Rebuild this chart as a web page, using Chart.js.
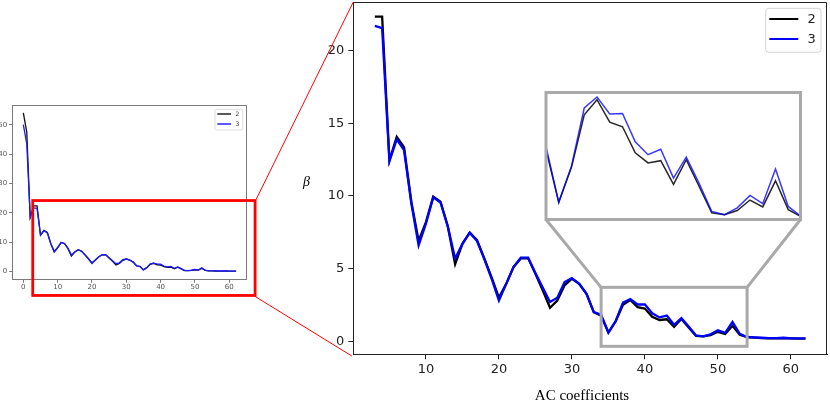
<!DOCTYPE html>
<html>
<head>
<meta charset="utf-8">
<script src="https://cdn.jsdelivr.net/npm/chart.js@4.4.0/dist/chart.umd.min.js"></script>
<style>
html,body{margin:0;padding:0;background:#fff;}
#wrap{position:relative;width:830px;height:400px;overflow:hidden;background:#fff;}
canvas{position:absolute;display:block;}
</style>
</head>
<body>
<div id="wrap">
  <canvas id="mainCv" width="830" height="400" style="left:0;top:0;width:830px;height:400px;"></canvas>
  <canvas id="smallCv" width="252" height="200" style="left:0;top:95px;width:252px;height:200px;"></canvas>
  <canvas id="insetCv" width="255" height="128" style="left:546px;top:92px;width:255px;height:128px;background:#fff;"></canvas>
  <canvas id="overCv" width="830" height="400" style="left:0;top:0;width:830px;height:400px;pointer-events:none;"></canvas>
</div>
<script>
// ---------------- data ----------------
const acIndex = [0,1,2,3,4,5,6,7,8,9,10,11,12,13,14,15,16,17,18,19,20,21,22,23,24,25,26,27,28,29,30,
  31,32,33,34,35,36,37,38,39,40,41,42,43,44,45,46,47,48,49,50,51,52,53,54,55,56,57,58,59,60,61,62];
// series "2" (black)
const seriesTwo = [54.0,47.5,18.5,22.35,22.35,12.45,14.07,13.35,9.6,6.9,8.2,9.95,9.6,7.9,5.3,6.7,7.47,6.95,5.7,4.4,
  3.0,3.95,5.1,5.7,5.72,4.64,3.5,2.3,2.8,3.85,4.3,3.95,3.26,2.0,1.75,0.6,1.37,2.51,2.84,2.35,
  2.25,1.68,1.46,1.51,0.99,1.53,0.95,0.37,0.33,0.42,0.65,0.5,1.07,0.44,0.29,0.25,0.22,0.2,0.2,0.22,
  0.2,0.18,0.18];
// series "3" (blue)
const seriesThree = [50.0,43.5,18.5,21.7,21.55,12.4,13.9,13.15,9.5,6.6,8.1,9.9,9.55,7.9,5.7,6.7,7.47,6.9,5.65,4.3,
  2.8,3.95,5.1,5.75,5.75,4.7,3.7,2.7,3.0,4.07,4.35,3.95,3.26,2.0,1.82,0.6,1.39,2.66,2.9,2.53,
  2.54,1.92,1.64,1.76,1.13,1.59,1.02,0.4,0.33,0.48,0.75,0.57,1.33,0.51,0.29,0.27,0.24,0.22,0.22,0.24,
  0.2,0.2,0.2];
const seriesLabels = ['2','3'];
const seriesColors = ['#000000','#0000ff'];
const mainFirstIndex = 3;            // large panel starts at AC coefficient 3
const mainXTicks = [10,20,30,40,50,60];
const mainYTicks = [0,5,10,15,20];
const smallXTicks = [0,10,20,30,40,50,60];
const smallYTicks = [0,10,20,30,40,50];
const mainXRange = [0.05,64.95];
const mainYRange = [-0.9,23.35];
const smallXRange = [-3.1,65.1];
const smallYRange = [-2.6,56.6];
const zoomXRange = [34,54];          // region shown magnified in the inset
const zoomYRange = [-0.35,3.71];
const insetYRange = [0.214,3.009];
const highlightX = [2.74,67.55];     // red box on the small panel
const highlightY = [-8.1,24.2];
const xAxisTitle = 'AC coefficients';
const yAxisTitle = 'β';

// ---------------- helpers ----------------
function pointsFrom(values, from, to) {
  const out = [];
  for (let i = from; i <= to; i++) out.push({x: acIndex[i], y: values[i]});
  return out;
}
function fixedTicks(list) {
  return function(scale) { scale.ticks = list.map(v => ({value: v})); };
}
function noPad(scale) {
  scale.paddingTop = 0; scale.paddingBottom = 0; scale.paddingLeft = 0; scale.paddingRight = 0;
}
function drawLegend(ctx, o) {
  ctx.save();
  const {x, y, w, h, r} = o.box;
  ctx.beginPath();
  ctx.moveTo(x + r, y); ctx.lineTo(x + w - r, y); ctx.arcTo(x + w, y, x + w, y + r, r);
  ctx.lineTo(x + w, y + h - r); ctx.arcTo(x + w, y + h, x + w - r, y + h, r);
  ctx.lineTo(x + r, y + h); ctx.arcTo(x, y + h, x, y + h - r, r);
  ctx.lineTo(x, y + r); ctx.arcTo(x, y, x + r, y, r);
  ctx.closePath();
  ctx.fillStyle = 'rgba(255,255,255,0.85)';
  ctx.fill();
  ctx.strokeStyle = o.border; ctx.lineWidth = 1;
  ctx.stroke();
  seriesLabels.forEach((lab, i) => {
    const yy = o.rows[i];
    ctx.strokeStyle = seriesColors[i]; ctx.lineWidth = o.lw;
    ctx.beginPath(); ctx.moveTo(o.x0, yy); ctx.lineTo(o.x1, yy); ctx.stroke();
    ctx.fillStyle = o.textColor; ctx.font = o.font;
    ctx.textAlign = 'left'; ctx.textBaseline = 'middle';
    ctx.fillText(lab, o.tx, yy + 0.5);
  });
  ctx.restore();
}
function frameTopRight(ctx, a, color, lw) {
  ctx.save();
  ctx.strokeStyle = color; ctx.lineWidth = lw;
  const t = Math.round(a.top) + 0.5, rr = Math.round(a.right) - 0.5;
  ctx.beginPath();
  ctx.moveTo(a.left, t); ctx.lineTo(rr, t); ctx.lineTo(rr, a.bottom);
  ctx.stroke();
  ctx.restore();
}

// ---------------- main panel ----------------
const mainDecor = {
  id: 'mainDecor',
  afterDraw(chart) {
    const ctx = chart.ctx;
    frameTopRight(ctx, chart.chartArea, '#222', 1);
    drawLegend(ctx, {
      box: {x: 765.7, y: 8.3, w: 55.3, h: 44, r: 3}, border: '#d4d4d4',
      rows: [19, 39], x0: 769.3, x1: 798.3, lw: 2, tx: 807.5,
      font: '13px "DejaVu Sans"', textColor: '#222'
    });
    ctx.save();
    ctx.fillStyle = '#000';
    ctx.textAlign = 'center'; ctx.textBaseline = 'alphabetic';
    ctx.font = 'italic 14px "Liberation Serif"';
    ctx.fillText(yAxisTitle, 306.5, 185.5);
    ctx.font = '15px "Liberation Serif"';
    ctx.fillText(xAxisTitle, 582, 399.5);
    ctx.restore();
  }
};

const mainChart = new Chart(document.getElementById('mainCv'), {
  type: 'line',
  data: {
    datasets: [
      {label: seriesLabels[1], data: pointsFrom(seriesThree, mainFirstIndex, acIndex.length - 1),
       borderColor: seriesColors[1], borderWidth: 2.3, pointRadius: 0, tension: 0, fill: false},
      {label: seriesLabels[0], data: pointsFrom(seriesTwo, mainFirstIndex, acIndex.length - 1),
       borderColor: seriesColors[0], borderWidth: 2.3, pointRadius: 0, tension: 0, fill: false}
    ]
  },
  options: {
    responsive: false, animation: false, events: [],
    layout: {autoPadding: false, padding: {left: 300, right: 3, top: 2, bottom: 0}},
    plugins: {legend: {display: false}, tooltip: {enabled: false}},
    scales: {
      x: {
        type: 'linear', min: mainXRange[0], max: mainXRange[1],
        afterBuildTicks: fixedTicks(mainXTicks),
        afterFit: s => { s.height = 45.7; noPad(s); },
        grid: {drawOnChartArea: false, drawTicks: true, tickLength: 5, color: '#222', lineWidth: 1},
        border: {display: true, color: '#222', width: 1},
        ticks: {font: {family: 'DejaVu Sans', size: 13}, color: '#222', padding: 3, maxRotation: 0, autoSkip: false}
      },
      y: {
        type: 'linear', min: mainYRange[0], max: mainYRange[1],
        afterBuildTicks: fixedTicks(mainYTicks),
        afterFit: s => { s.width = 53.3; noPad(s); },
        grid: {drawOnChartArea: false, drawTicks: true, tickLength: 5, color: '#222', lineWidth: 1},
        border: {display: true, color: '#222', width: 1},
        ticks: {font: {family: 'DejaVu Sans', size: 13}, color: '#222', padding: 4, autoSkip: false}
      }
    }
  },
  plugins: [mainDecor]
});

// ---------------- small overview panel ----------------
const smallDecor = {
  id: 'smallDecor',
  afterDraw(chart) {
    const ctx = chart.ctx;
    frameTopRight(ctx, chart.chartArea, '#7a7a7a', 1);
    drawLegend(ctx, {
      box: {x: 215, y: 14.3, w: 27.7, h: 20.7, r: 1.5}, border: '#dddddd',
      rows: [19, 29], x0: 217.3, x1: 231, lw: 1.3, tx: 235.5,
      font: '6px "DejaVu Sans"', textColor: '#333'
    });
  }
};
const smallChart = new Chart(document.getElementById('smallCv'), {
  type: 'line',
  data: {
    datasets: [
      {label: seriesLabels[1], data: pointsFrom(seriesThree, 0, acIndex.length - 1),
       borderColor: '#1a1aff', borderWidth: 1.3, pointRadius: 0, tension: 0, fill: false},
      {label: seriesLabels[0], data: pointsFrom(seriesTwo, 0, acIndex.length - 1),
       borderColor: '#111111', borderWidth: 1.3, pointRadius: 0, tension: 0, fill: false}
    ]
  },
  options: {
    responsive: false, animation: false, events: [],
    layout: {autoPadding: false, padding: {left: 0, right: 5.3, top: 10.3, bottom: 0}},
    plugins: {legend: {display: false}, tooltip: {enabled: false}},
    scales: {
      x: {
        type: 'linear', min: smallXRange[0], max: smallXRange[1],
        afterBuildTicks: fixedTicks(smallXTicks),
        afterFit: s => { s.height = 15.7; noPad(s); },
        grid: {drawOnChartArea: false, drawTicks: true, tickLength: 3.5, color: '#7a7a7a', lineWidth: 1},
        border: {display: true, color: '#7a7a7a', width: 1},
        ticks: {font: {family: 'DejaVu Sans', size: 7}, color: '#555', padding: 0, maxRotation: 0, autoSkip: false}
      },
      y: {
        type: 'linear', min: smallYRange[0], max: smallYRange[1],
        afterBuildTicks: fixedTicks(smallYTicks),
        afterFit: s => { s.width = 12.7; noPad(s); },
        grid: {drawOnChartArea: false, drawTicks: true, tickLength: 3.5, color: '#7a7a7a', lineWidth: 1},
        border: {display: true, color: '#7a7a7a', width: 1},
        ticks: {font: {family: 'DejaVu Sans', size: 7}, color: '#555', padding: 2, autoSkip: false}
      }
    }
  },
  plugins: [smallDecor]
});

// ---------------- inset (magnified region) ----------------
const insetChart = new Chart(document.getElementById('insetCv'), {
  type: 'line',
  data: {
    datasets: [
      {label: seriesLabels[1], data: pointsFrom(seriesThree, 0, acIndex.length - 1),
       borderColor: 'rgba(0,0,255,0.78)', borderWidth: 1.5, pointRadius: 0, tension: 0, fill: false},
      {label: seriesLabels[0], data: pointsFrom(seriesTwo, 0, acIndex.length - 1),
       borderColor: 'rgba(0,0,0,0.85)', borderWidth: 1.5, pointRadius: 0, tension: 0, fill: false}
    ]
  },
  options: {
    responsive: false, animation: false, events: [],
    layout: {autoPadding: false, padding: 0},
    plugins: {legend: {display: false}, tooltip: {enabled: false}},
    scales: {
      x: {type: 'linear', display: false, min: zoomXRange[0], max: zoomXRange[1]},
      y: {type: 'linear', display: false, min: insetYRange[0], max: insetYRange[1]}
    }
  }
});

// ---------------- overlay: zoom markers and connectors ----------------
(function drawOverlay() {
  const ctx = document.getElementById('overCv').getContext('2d');
  const sx = smallChart.scales.x, sy = smallChart.scales.y;
  const smallTop = 95;
  const hl = sx.getPixelForValue(highlightX[0]), hr = sx.getPixelForValue(highlightX[1]);
  const ht = smallTop + sy.getPixelForValue(highlightY[1]), hb = smallTop + sy.getPixelForValue(highlightY[0]);
  const ma = mainChart.chartArea;

  // red box on overview
  ctx.strokeStyle = '#ff0000';
  ctx.lineWidth = 2.8;
  ctx.strokeRect(hl, ht, hr - hl, hb - ht);
  // thin red connectors
  ctx.lineWidth = 1;
  ctx.beginPath();
  ctx.moveTo(hr + 1, ht - 1); ctx.lineTo(ma.left, ma.top);
  ctx.moveTo(hr, hb + 1); ctx.lineTo(ma.left - 1.5, ma.bottom + 1.7);
  ctx.stroke();

  // gray source rectangle in main panel
  const mx = mainChart.scales.x, my = mainChart.scales.y;
  const zl = mx.getPixelForValue(zoomXRange[0]), zr = mx.getPixelForValue(zoomXRange[1]);
  const zt = my.getPixelForValue(zoomYRange[1]), zb = my.getPixelForValue(zoomYRange[0]);
  ctx.strokeStyle = '#a9a9a9';
  ctx.lineWidth = 3;
  ctx.strokeRect(zl, zt, zr - zl, zb - zt);

  // inset border & connectors
  const ic = document.getElementById('insetCv');
  const il = parseFloat(ic.style.left), it = parseFloat(ic.style.top);
  const iw = ic.width, ih = ic.height;
  const bx = il, by = it + 0.5, bw = iw - 0.5, bh = ih - 1;
  ctx.strokeRect(bx, by, bw, bh);
  ctx.beginPath();
  ctx.moveTo(zl, zt); ctx.lineTo(bx, by + bh);
  ctx.moveTo(zr, zt); ctx.lineTo(bx + bw, by + bh);
  ctx.stroke();
})();
</script>
</body>
</html>
